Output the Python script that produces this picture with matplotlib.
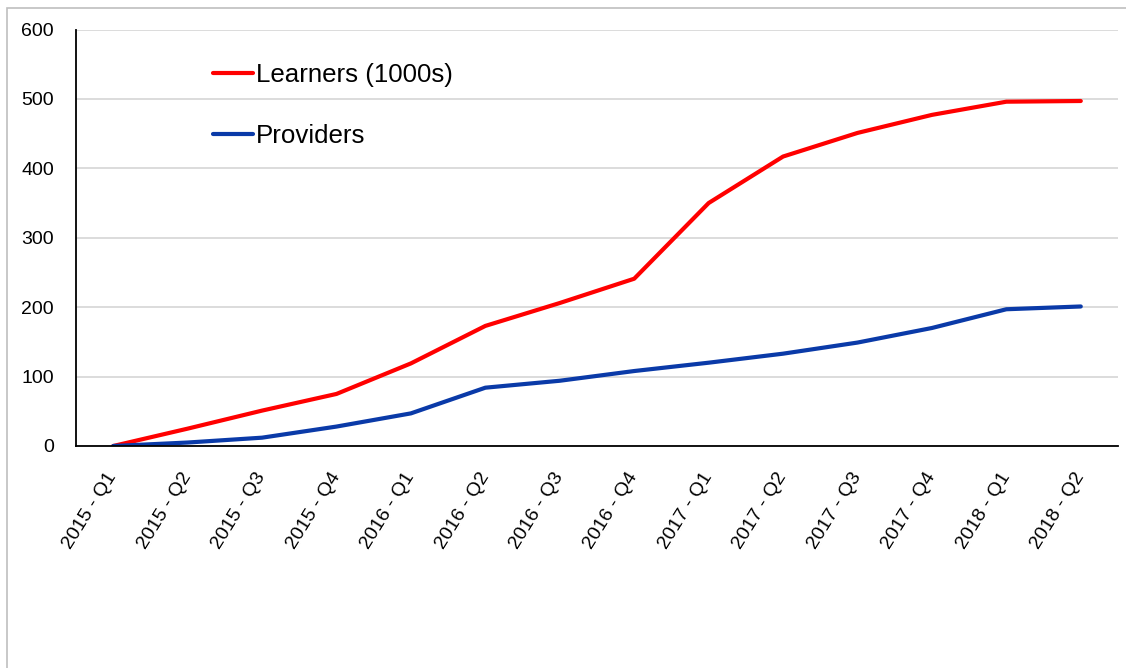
import matplotlib
matplotlib.use('Agg')
import matplotlib.pyplot as plt
from matplotlib.patches import Rectangle

plt.rcParams['font.family'] = ['Liberation Sans', 'DejaVu Sans']

quarters = ['2015 - Q1', '2015 - Q2', '2015 - Q3', '2015 - Q4',
            '2016 - Q1', '2016 - Q2', '2016 - Q3', '2016 - Q4',
            '2017 - Q1', '2017 - Q2', '2017 - Q3', '2017 - Q4',
            '2018 - Q1', '2018 - Q2']
learners = [0, 25, 51, 75, 119, 173, 206, 241, 350, 417, 451, 477, 496, 497]
providers = [0, 5, 12, 28, 47, 84, 94, 108, 120, 133, 149, 170, 197, 201]
yticks = [0, 100, 200, 300, 400, 500, 600]

W, H = 1126, 668
fig = plt.figure(figsize=(W / 100, H / 100), dpi=100)
fig.patches.append(Rectangle((7 / W, -0.1), 1.2, 1 - 8 / H + 0.1,
                             transform=fig.transFigure, fill=False,
                             edgecolor='#BFBFBF', lw=1.2))

ax = fig.add_axes([76 / W, 1 - 446 / H, (1118 - 76) / W, (446 - 29.5) / H])
x = range(len(quarters))
ax.plot(x, learners, color='#FF0000', lw=3, label='Learners (1000s)',
        solid_capstyle='round')
ax.plot(x, providers, color='#0A3AA8', lw=3, label='Providers',
        solid_capstyle='round')

ax.set_xlim(-0.5, len(quarters) - 0.5)
ax.set_ylim(0, 600)
ax.set_yticks(yticks)
ax.set_xticks(list(x))
ax.set_xticklabels(quarters, rotation=58, ha='right', va='center',
                   rotation_mode='anchor')
ax.tick_params(axis='both', length=0, labelsize=14)
ax.tick_params(axis='x', pad=20)
ax.tick_params(axis='y', pad=16)
ax.grid(axis='y', color='#D9D9D9', lw=1.3)
ax.set_axisbelow(True)
for s in ['top', 'right']:
    ax.spines[s].set_visible(False)
for s in ['left', 'bottom']:
    ax.spines[s].set_linewidth(1.3)
    ax.spines[s].set_color('black')

ax.legend(loc='upper left', bbox_to_anchor=(213 / W, 1 - 63 / H),
          bbox_transform=fig.transFigure, frameon=False, fontsize=18.6,
          handlelength=1.55, handletextpad=0.12, labelspacing=1.45,
          borderpad=0, borderaxespad=0)

fig.savefig('out.png', dpi=100)
